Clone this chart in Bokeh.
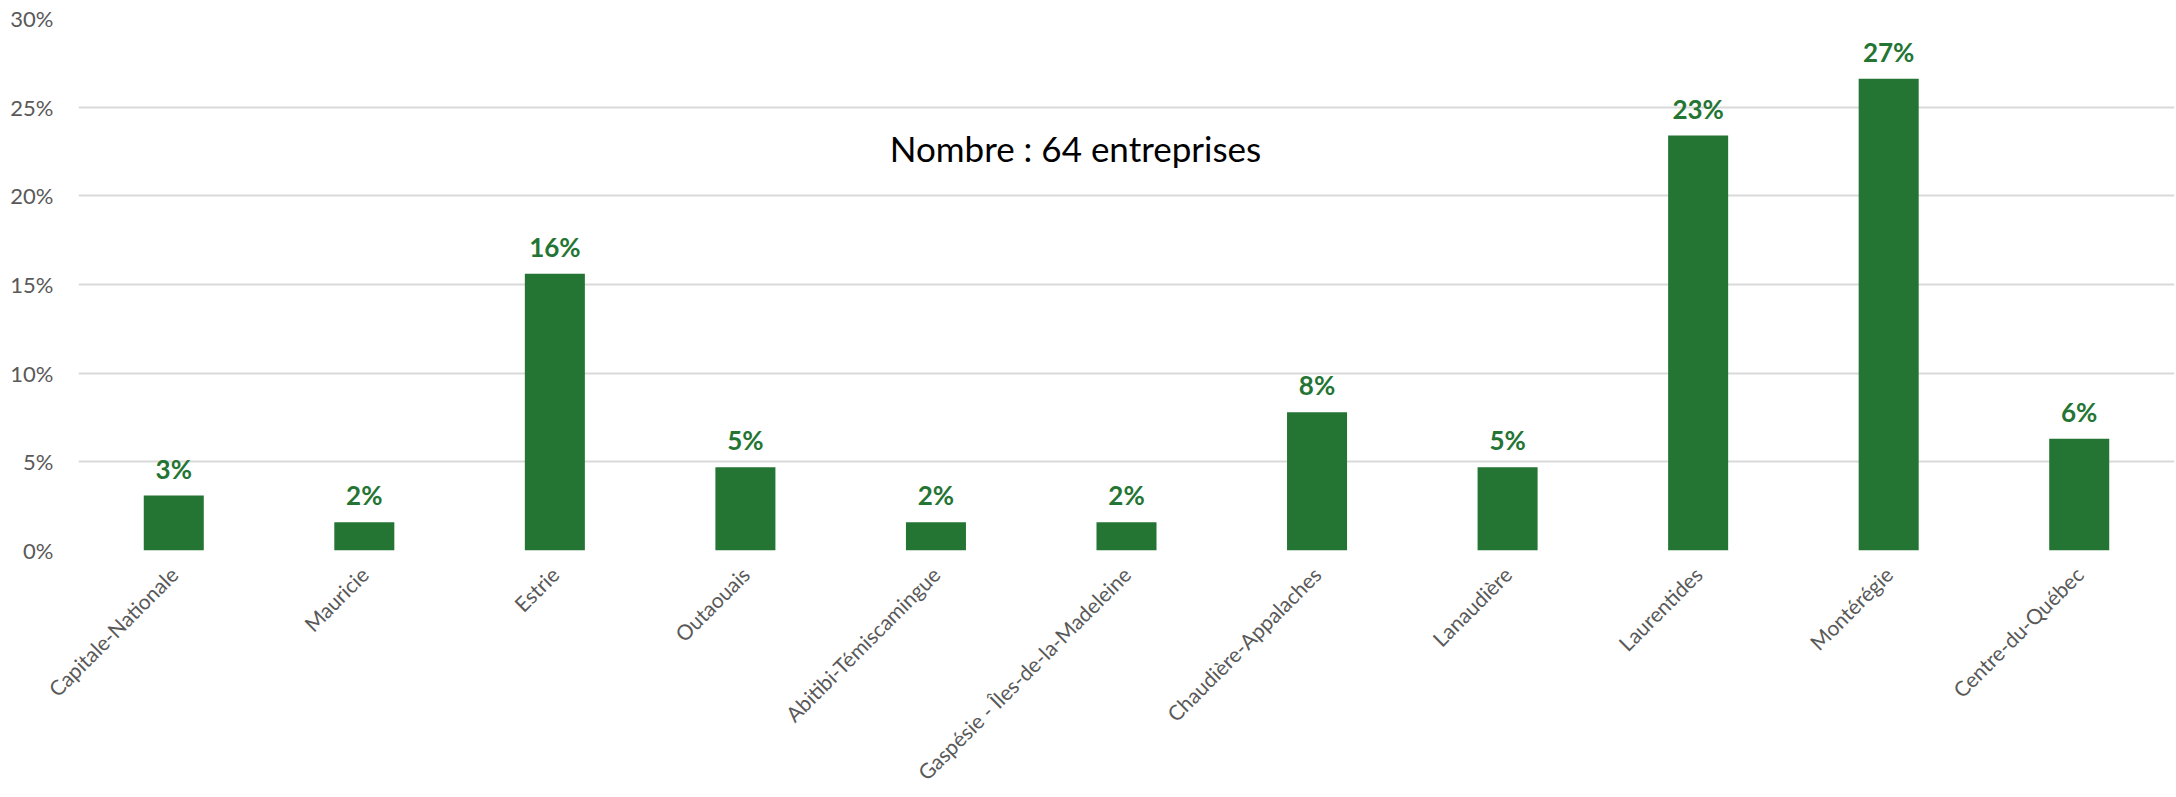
import math
from bokeh.plotting import figure
from bokeh.models import ColumnDataSource, FactorRange, FixedTicker, CustomJSTickFormatter, Label
from bokeh.core.properties import value
from bokeh.embed import file_html
from bokeh.resources import INLINE

# ---- data ----
regions = [
    "Capitale-Nationale", "Mauricie", "Estrie", "Outaouais",
    "Abitibi-Témiscamingue", "Gaspésie - Îles-de-la-Madeleine",
    "Chaudière-Appalaches", "Lanaudière", "Laurentides", "Montérégie",
    "Centre-du-Québec",
]
shares = [3.1, 1.6, 15.6, 4.7, 1.6, 1.6, 7.8, 4.7, 23.4, 26.6, 6.3]
y_ticks = [0, 5, 10, 15, 20, 25, 30]
note = "Nombre : 64 entreprises"

GREEN = "#247533"
GREY = "#595959"
FONT = "Lato"

labels = [f"{round(v)}%" for v in shares]
src = ColumnDataSource(dict(x=regions, y=shares, lab=labels))

p = figure(
    x_range=FactorRange(*regions, range_padding=0),
    y_range=(0, 30),
    width=2176, height=797,
    output_backend="svg", toolbar_location=None,
    min_border_left=78, min_border_right=2, min_border_top=18, min_border_bottom=247,
)
p.outline_line_color = None
p.background_fill_color = "white"
p.border_fill_color = "white"

p.vbar(x="x", top="y", width=0.315, source=src, fill_color=GREEN, line_color=None)
p.text(x="x", y="y", text="lab", source=src, text_align="center",
       text_baseline="alphabetic", y_offset=-27,
       text_font=value(FONT), text_font_style="bold", text_font_size="26px",
       text_color=GREEN)

p.add_layout(Label(x=997, y=22.7, x_units="screen", text=note, text_align="center",
                   text_baseline="alphabetic", text_font=FONT, text_font_size="35px",
                   text_color="black"))

# grid
p.xgrid.grid_line_color = None
p.ygrid.grid_line_color = "#d9d9d9"
p.ygrid.grid_line_width = 2
p.yaxis.ticker = FixedTicker(ticks=y_ticks)

# axes
p.yaxis.formatter = CustomJSTickFormatter(code="return tick + '%';")
p.yaxis.axis_line_color = None
p.yaxis.major_tick_line_color = None
p.yaxis.minor_tick_line_color = None
p.yaxis.major_label_text_font = FONT
p.yaxis.major_label_text_font_size = "22px"
p.yaxis.major_label_text_color = GREY
p.yaxis.major_label_standoff = 19

p.xaxis.axis_line_color = None
p.xaxis.major_tick_line_color = None
p.xaxis.major_tick_out = 0
p.xaxis.major_label_orientation = math.pi / 4
p.xaxis.major_label_text_font = FONT
p.xaxis.major_label_text_font_size = "21px"
p.xaxis.major_label_text_color = GREY
p.xaxis.major_label_standoff = 20

open("out.html", "w").write(file_html(p, INLINE))
